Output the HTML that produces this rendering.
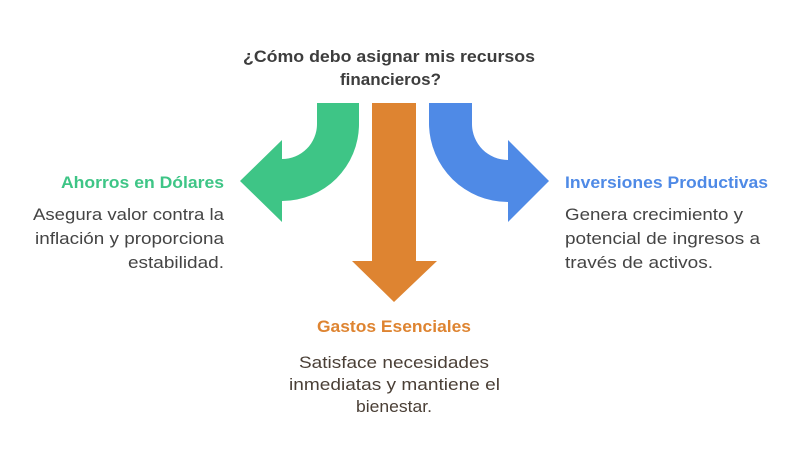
<!DOCTYPE html>
<html><head><meta charset="utf-8"><style>html,body{margin:0;padding:0;background:#fff}svg{display:block}</style></head>
<body>
<svg width="800" height="463" viewBox="0 0 800 463" xmlns="http://www.w3.org/2000/svg" font-family="Liberation Sans, sans-serif">
<path d="M317 103 L359 103 L359 124 A77 77 0 0 1 282 201 L282 222 L240 181 L282 140 L282 159 A35 35 0 0 0 317 124 Z" fill="#3ec586"/>
<path d="M429 103 L472 103 L472 124 A36 36 0 0 0 508 160 L508 140 L549 181 L508 222 L508 202 A79 79 0 0 1 429 124 Z" fill="#4f8ae6"/>
<path d="M372 103 L416 103 L416 261 L437 261 L394 302 L352 261 L372 261 Z" fill="#de8431"/>
<g font-weight="bold" font-size="17" fill="#3d3d3d" lengthAdjust="spacingAndGlyphs">
<text x="243" y="62" textLength="292" lengthAdjust="spacingAndGlyphs">¿Cómo debo asignar mis recursos</text>
<text x="340" y="85" textLength="101" lengthAdjust="spacingAndGlyphs">financieros?</text>
</g>
<g font-weight="bold" font-size="17">
<text x="61" y="188" textLength="163" lengthAdjust="spacingAndGlyphs" fill="#3ec586">Ahorros en Dólares</text>
<text x="565" y="188" textLength="203" lengthAdjust="spacingAndGlyphs" fill="#4f8ae6">Inversiones Productivas</text>
<text x="317" y="332" textLength="154" lengthAdjust="spacingAndGlyphs" fill="#de8431">Gastos Esenciales</text>
</g>
<g font-size="17" fill="#444">
<text x="33" y="220" textLength="191" lengthAdjust="spacingAndGlyphs">Asegura valor contra la</text>
<text x="35" y="244" textLength="189" lengthAdjust="spacingAndGlyphs">inflación y proporciona</text>
<text x="128" y="268" textLength="96" lengthAdjust="spacingAndGlyphs">estabilidad.</text>
<text x="565" y="220" textLength="178" lengthAdjust="spacingAndGlyphs">Genera crecimiento y</text>
<text x="565" y="244" textLength="195" lengthAdjust="spacingAndGlyphs">potencial de ingresos a</text>
<text x="565" y="268" textLength="148" lengthAdjust="spacingAndGlyphs">través de activos.</text>
</g>
<g font-size="17" fill="#4a3f36">
<text x="299" y="368" textLength="190" lengthAdjust="spacingAndGlyphs">Satisface necesidades</text>
<text x="289" y="390" textLength="211" lengthAdjust="spacingAndGlyphs">inmediatas y mantiene el</text>
<text x="356" y="412" textLength="76" lengthAdjust="spacingAndGlyphs">bienestar.</text>
</g>
</svg>
</body></html>
